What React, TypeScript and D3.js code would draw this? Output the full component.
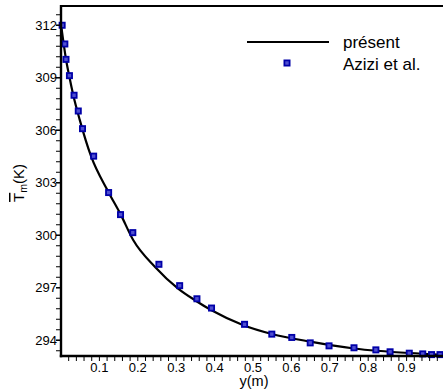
import React from "react";
import * as d3 from "d3";

const curveX = [0, 0.013, 0.021, 0.032, 0.049, 0.078, 0.123, 0.154, 0.188, 0.245, 0.305, 0.353, 0.392, 0.475, 0.549, 0.649, 0.763, 0.907, 0.991];
const curveT = [312.06, 310.06, 309.14, 308.0, 306.58, 304.53, 302.49, 301.25, 299.73, 298.19, 296.95, 296.23, 295.71, 294.86, 294.36, 293.92, 293.53, 293.27, 293.18];

const aziziX = [0.003, 0.01, 0.013, 0.022, 0.034, 0.045, 0.056, 0.085, 0.124, 0.155, 0.187, 0.255, 0.309, 0.354, 0.392, 0.478, 0.549, 0.601, 0.649, 0.698, 0.763, 0.82, 0.857, 0.907, 0.942, 0.965, 0.987];
const aziziT = [312.0, 310.93, 310.05, 309.12, 308.0, 307.1, 306.09, 304.52, 302.44, 301.18, 300.15, 298.34, 297.12, 296.37, 295.84, 294.91, 294.35, 294.16, 293.85, 293.68, 293.57, 293.45, 293.34, 293.26, 293.22, 293.18, 293.18];

const yMajor = [294, 297, 300, 303, 306, 309, 312];
const xLabels = [0.1, 0.2, 0.3, 0.4, 0.5, 0.6, 0.7, 0.8, 0.9];
const legendNames = ["présent", "Azizi et al."];

const W = 443;
const H = 392;
const FONT = "'Liberation Sans', Arial, Helvetica, sans-serif";

function Marker({ cx, cy }: { cx: number; cy: number }) {
  return <rect x={cx - 2.6} y={cy - 2.6} width={5.2} height={5.2} fill="#4f4fd0" stroke="#0000a8" strokeWidth={1.8} />;
}

export default function App() {
  const x = d3.scaleLinear().domain([0, 1]).range([61, 445]);
  const y = d3.scaleLinear().domain([293.1, 313.1]).range([356, 6]);

  const line = d3
    .line<number>()
    .x((_, i) => x(curveX[i]))
    .y((d) => y(d))
    .curve(d3.curveMonotoneX);

  const yMinor = d3.range(0, 34).map((k) => 294 + (k - 1) * 0.6).filter((v) => v > 293.15 && v < 313.05);
  const xMinor = d3.range(1, 50).map((k) => k * 0.02);

  const x0 = x(0);
  const yb = y(293.1);
  const yt = y(313.1);

  return (
    <svg width={W} height={H} style={{ position: "absolute", left: 0, top: 0, display: "block", background: "#fff" }} fontFamily={FONT}>
      <rect x={0} y={0} width={W} height={H} fill="#fff" />
      <path d={line(curveT) || ""} fill="none" stroke="#000" strokeWidth={2.2} />
      {aziziX.map((v, i) => (
        <Marker key={i} cx={x(v)} cy={y(aziziT[i])} />
      ))}
      <line x1={x0} x2={W} y1={yt} y2={yt} stroke="#000" strokeWidth={2.2} />
      <line x1={x0} x2={x0} y1={yt - 1} y2={yb + 1.2} stroke="#000" strokeWidth={2.4} />
      <line x1={x0 - 1.2} x2={W} y1={yb} y2={yb} stroke="#000" strokeWidth={2.4} />
      {yMinor.map((v, i) => (
        <line key={"ym" + i} x1={x0 - 5} x2={x0} y1={y(v)} y2={y(v)} stroke="#000" strokeWidth={1} />
      ))}
      {yMajor.map((v) => (
        <g key={"yM" + v}>
          <line x1={x0 - 5} x2={x0} y1={y(v)} y2={y(v)} stroke="#000" strokeWidth={1.3} />
          <text x={x0 - 4} y={y(v)} dy="0.36em" textAnchor="end" fontSize={13} fill="#000">
            {v}
          </text>
        </g>
      ))}
      {xMinor.map((v, i) => (
        <line key={"xm" + i} x1={x(v)} x2={x(v)} y1={yb} y2={yb + 5} stroke="#000" strokeWidth={1} />
      ))}
      {xLabels.map((v) => (
        <text key={"xl" + v} x={x(v)} y={yb + 15.5} textAnchor="middle" fontSize={13} fill="#000">
          {v.toFixed(1)}
        </text>
      ))}
      <text x={254} y={386} textAnchor="middle" fontSize={14.5} fill="#000">
        y(m)
      </text>
      <text transform="translate(24,183) rotate(-90)" textAnchor="middle" fontSize={15} fill="#000">
        <tspan style={{ textDecoration: "overline" }}>T</tspan>
        <tspan fontSize={10.5} dy={3}>m</tspan>
        <tspan dy={-3}>(K)</tspan>
      </text>
      <line x1={247} x2={329} y1={42} y2={42} stroke="#000" strokeWidth={2.2} />
      <text x={343} y={47.5} fontSize={17} fill="#000">
        {legendNames[0]}
      </text>
      <Marker cx={287} cy={63} />
      <text x={343} y={69.5} fontSize={17} fill="#000">
        {legendNames[1]}
      </text>
    </svg>
  );
}
